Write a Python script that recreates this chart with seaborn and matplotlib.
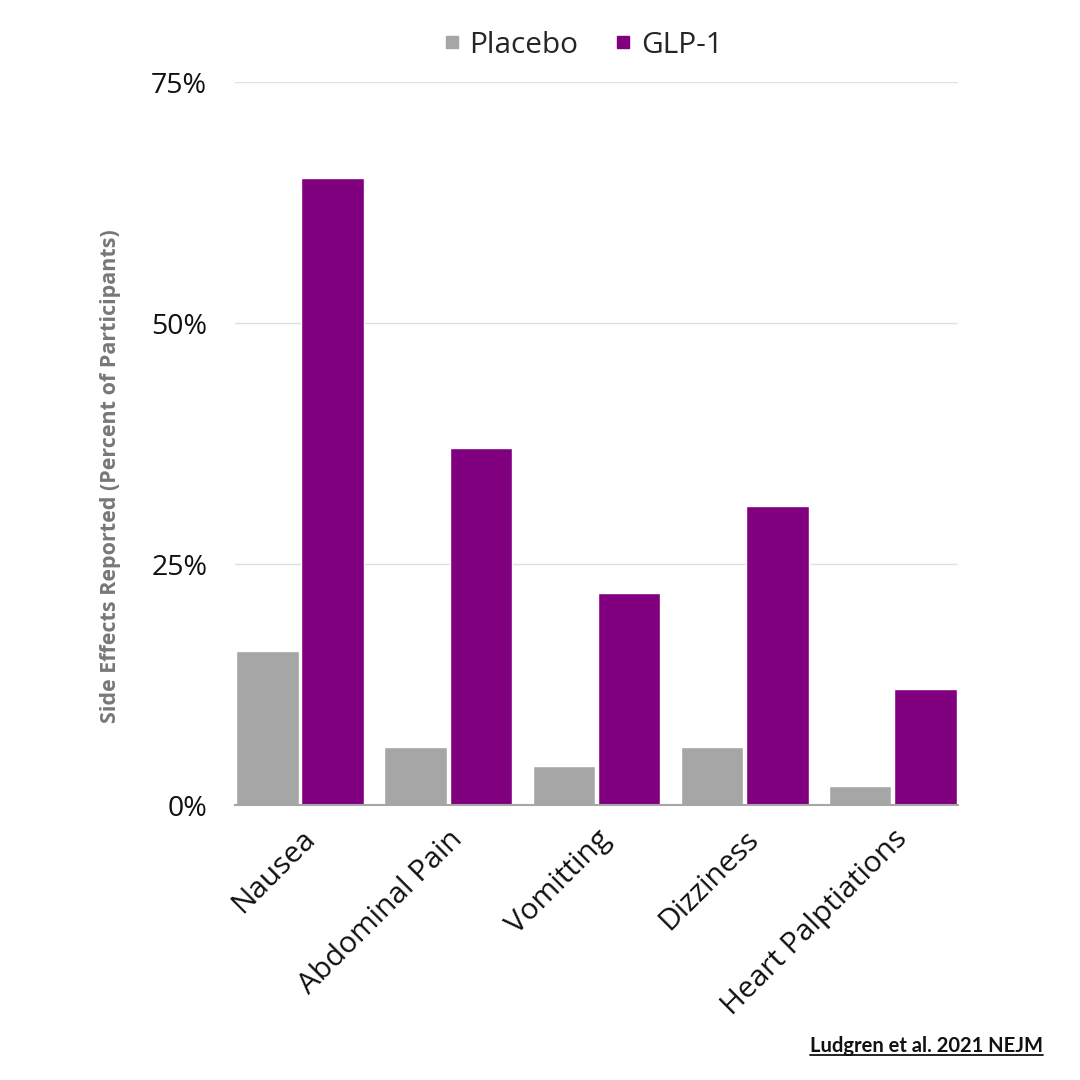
import pandas as pd
import matplotlib
matplotlib.use("Agg")
import matplotlib.pyplot as plt
from matplotlib.lines import Line2D
import seaborn as sns

# === DATA ===
side_effects = ["Nausea", "Abdominal Pain", "Vomitting", "Dizziness", "Heart Palptiations"]
placebo = [16, 6, 4, 6, 2]
glp1 = [65, 37, 22, 31, 12]
y_ticks = [0, 25, 50, 75]

PLACEBO_COLOR = "#a6a6a6"
GLP_COLOR = "#800080"

df = pd.DataFrame({
    "effect": side_effects * 2,
    "value": placebo + glp1,
    "group": ["Placebo"] * len(side_effects) + ["GLP-1"] * len(side_effects),
})

sns.set_theme(style="white")
plt.rcParams["font.family"] = ["Open Sans", "DejaVu Sans"]

fig = plt.figure(figsize=(10.8, 10.8), dpi=100)
ax = fig.add_axes([0.2176, 0.2546, 0.6694, 0.6694])

sns.barplot(
    data=df, x="effect", y="value", hue="group",
    palette={"Placebo": PLACEBO_COLOR, "GLP-1": GLP_COLOR},
    width=0.88, gap=0.04, saturation=1, legend=False, ax=ax,
)

ax.set_ylim(0, 75)
ax.set_xlim(-0.44, 4.44)
ax.set_yticks(y_ticks)
ax.set_yticklabels([f"{t}%" for t in y_ticks], fontsize=20.5, color="#111111")
ax.set_xticks(range(len(side_effects)))
ax.set_xticklabels(side_effects, rotation=45, ha="right", rotation_mode="anchor",
                   fontsize=21.5, color="#111111")
ax.tick_params(axis="y", length=0, pad=20)
ax.tick_params(axis="x", length=0, pad=14)
ax.yaxis.grid(True, color="#e0e0e0", linewidth=1)
ax.set_axisbelow(True)
for side in ["top", "right", "left"]:
    ax.spines[side].set_visible(False)
ax.spines["bottom"].set_color("#a6a6a6")
ax.spines["bottom"].set_linewidth(1.5)

ax.set_xlabel("")
ax.set_ylabel("Side Effects Reported (Percent of Participants)", fontsize=15.5,
              fontweight="bold", color="#777777")
ax.yaxis.set_label_coords(-0.158, 0.455)

handles = [
    Line2D([0], [0], marker="s", linestyle="", markersize=8, color=PLACEBO_COLOR, label="Placebo"),
    Line2D([0], [0], marker="s", linestyle="", markersize=8, color=GLP_COLOR, label="GLP-1"),
]
fig.legend(handles=handles, loc="center", bbox_to_anchor=(0.537, 0.958), ncol=2,
           frameon=False, fontsize=21.5, handletextpad=0.1, columnspacing=1.0,
           handlelength=1.0)

footer = fig.text(0.966, 0.022, "Ludgren et al. 2021 NEJM", ha="right", va="bottom",
                  fontsize=14.5, fontweight="bold", color="#111111",
                  fontfamily=["Lato", "DejaVu Sans"])
fig.canvas.draw()
bb = footer.get_window_extent().transformed(fig.transFigure.inverted())
fig.add_artist(Line2D([bb.x0, bb.x1], [bb.y0 + 0.001, bb.y0 + 0.001],
                      color="#111111", linewidth=1.3))

fig.savefig("out.png", dpi=100, facecolor="white")
